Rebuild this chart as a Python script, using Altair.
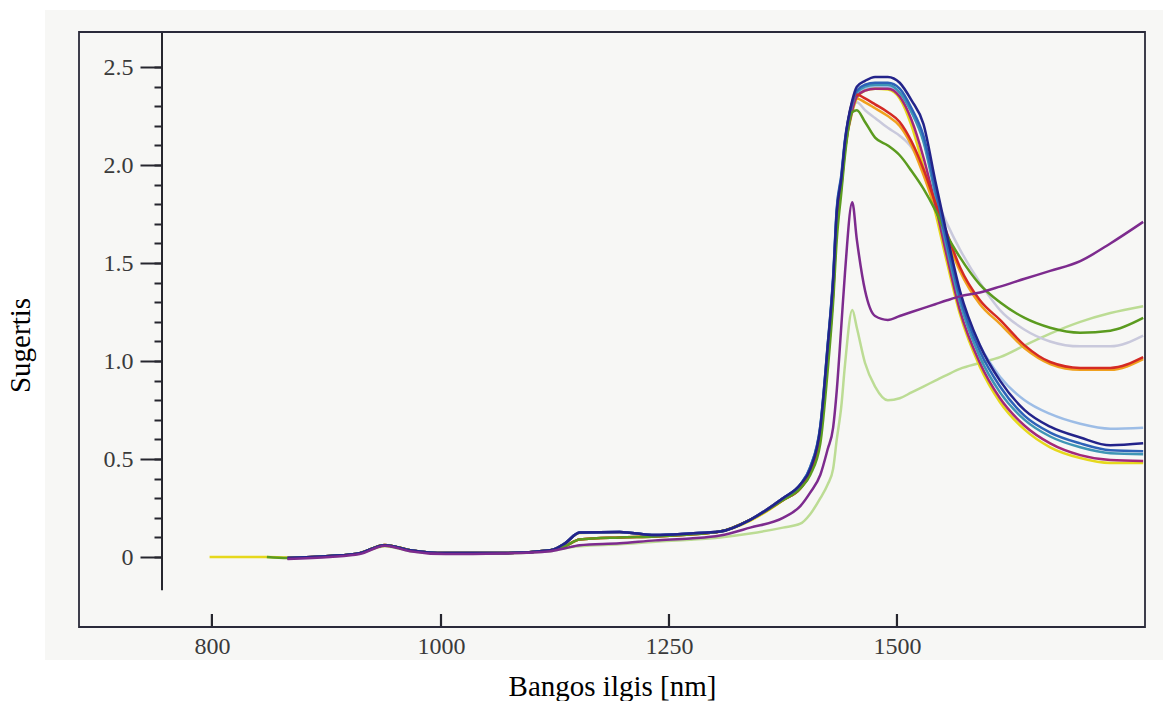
import altair as alt
import pandas as pd

# ---------------- data ----------------
# wavelength grid [nm]
WL_LOW = [798, 848, 866, 903, 929, 951, 973, 1005, 1065, 1120, 1136, 1152,
          1196, 1235, 1273, 1306, 1339, 1375]
WL_HIGH = [1394, 1405, 1416, 1424, 1430, 1434, 1439, 1443, 1451, 1456, 1465,
           1476, 1490, 1503, 1516, 1529, 1542, 1555, 1569, 1591, 1613, 1640,
           1668, 1701, 1734, 1770]

# low-wavelength part (curves overlap there, read per group)
LOW_BLUE = [None, None, -0.005, 0.005, 0.02, 0.06, 0.035, 0.02, 0.02, 0.035,
            0.07, 0.125, 0.128, 0.112, 0.12, 0.13, 0.19, 0.30]
LOW_YELLOW = [0.0, 0.0, -0.003, 0.005, 0.02, 0.058, 0.035, 0.02, 0.02, 0.035,
              0.07, 0.122, 0.126, 0.11, 0.118, 0.13, 0.185, 0.29]
LOW_MID = [None, None, -0.005, 0.005, 0.02, 0.062, 0.035, 0.02, 0.02, 0.035,
           0.055, 0.09, 0.10, 0.105, 0.115, 0.13, 0.19, 0.29]
LOW_GREEN = [None, 0.0, -0.005, 0.005, 0.02, 0.062, 0.035, 0.02, 0.02, 0.035,
             0.055, 0.09, 0.10, 0.105, 0.115, 0.13, 0.19, 0.29]
LOW_PURPLE = [None, None, -0.01, 0.0, 0.015, 0.058, 0.03, 0.015, 0.018, 0.03,
              0.045, 0.06, 0.07, 0.085, 0.095, 0.11, 0.15, 0.20]
LOW_LGREEN = [None, None, -0.005, 0.003, 0.018, 0.055, 0.03, 0.018, 0.018,
              0.03, 0.045, 0.055, 0.065, 0.078, 0.088, 0.10, 0.12, 0.15]

# water band region, per curve
NAVY = [0.37, 0.45, 0.66, 1.07, 1.41, 1.76, 1.93, 2.12, 2.33, 2.40, 2.43, 2.45,
        2.45, 2.42, 2.33, 2.21, 1.92, 1.64, 1.36, 1.08, 0.90, 0.75, 0.665, 0.61,
        0.57, 0.58]
BLUE = [0.37, 0.46, 0.67, 1.08, 1.43, 1.78, 1.95, 2.13, 2.32, 2.38, 2.41, 2.42,
        2.42, 2.39, 2.29, 2.15, 1.88, 1.60, 1.33, 1.05, 0.87, 0.72, 0.635, 0.58,
        0.545, 0.54]
SKY = [0.36, 0.45, 0.65, 1.05, 1.40, 1.74, 1.92, 2.10, 2.30, 2.36, 2.39, 2.40,
       2.40, 2.37, 2.27, 2.13, 1.87, 1.61, 1.34, 1.08, 0.92, 0.80, 0.73, 0.68,
       0.655, 0.66]
TEAL = [0.37, 0.46, 0.67, 1.08, 1.42, 1.77, 1.94, 2.12, 2.31, 2.37, 2.40, 2.41,
        2.41, 2.37, 2.27, 2.12, 1.85, 1.57, 1.30, 1.02, 0.84, 0.70, 0.615, 0.56,
        0.53, 0.525]
YELLOW = [0.36, 0.44, 0.64, 1.03, 1.38, 1.72, 1.90, 2.08, 2.27, 2.34, 2.38, 2.39,
          2.385, 2.34, 2.20, 1.99, 1.76, 1.50, 1.24, 0.97, 0.79, 0.65, 0.56,
          0.505, 0.48, 0.48]
MAGENTA = [0.36, 0.44, 0.64, 1.03, 1.38, 1.72, 1.90, 2.08, 2.28, 2.35, 2.38,
           2.39, 2.39, 2.35, 2.23, 2.04, 1.80, 1.53, 1.26, 0.99, 0.81, 0.67,
           0.58, 0.52, 0.495, 0.49]
RED = [0.35, 0.43, 0.62, 1.00, 1.35, 1.70, 1.90, 2.10, 2.32, 2.36, 2.34, 2.31,
       2.27, 2.22, 2.12, 1.98, 1.81, 1.65, 1.48, 1.31, 1.21, 1.08, 0.995, 0.965,
       0.965, 1.02]
ORANGE = [0.35, 0.43, 0.62, 1.00, 1.34, 1.69, 1.89, 2.09, 2.30, 2.34, 2.32,
          2.29, 2.25, 2.20, 2.10, 1.95, 1.78, 1.62, 1.46, 1.29, 1.19, 1.065,
          0.985, 0.955, 0.955, 1.01]
GREY = [0.35, 0.43, 0.62, 1.00, 1.34, 1.68, 1.88, 2.07, 2.28, 2.32, 2.28, 2.24,
        2.19, 2.15, 2.09, 1.98, 1.84, 1.70, 1.57, 1.40, 1.26, 1.16, 1.10, 1.075,
        1.075, 1.13]
GREEN = [0.35, 0.42, 0.58, 0.95, 1.30, 1.62, 1.86, 2.05, 2.27, 2.28, 2.22, 2.14,
         2.10, 2.05, 1.97, 1.88, 1.77, 1.64, 1.53, 1.39, 1.30, 1.22, 1.17, 1.145,
         1.155, 1.22]
PURPLE = [0.26, 0.33, 0.42, 0.55, 0.66, 0.85, 1.18, 1.45, 1.81, 1.62, 1.36,
          1.23, 1.21, 1.23, 1.25, 1.27, 1.29, 1.31, 1.33, 1.35, 1.38, 1.42, 1.46,
          1.51, 1.60, 1.71]
LGREEN = [0.17, 0.22, 0.30, 0.37, 0.45, 0.60, 0.77, 0.98, 1.26, 1.17, 0.99,
          0.87, 0.80, 0.81, 0.84, 0.87, 0.90, 0.93, 0.96, 0.99, 1.02, 1.08, 1.14,
          1.20, 1.245, 1.28]

# drawing order: name, colour, low part, high part
SERIES = [
    ("s01", "#bcdc94", LOW_LGREEN, LGREEN),
    ("s02", "#c9c9dc", LOW_MID, GREY),
    ("s03", "#9dbde6", LOW_BLUE, SKY),
    ("s04", "#e6d81c", LOW_YELLOW, YELLOW),
    ("s05", "#f0a11e", LOW_MID, ORANGE),
    ("s06", "#a3287a", LOW_BLUE, MAGENTA),
    ("s07", "#3f95b5", LOW_BLUE, TEAL),
    ("s08", "#d42a24", LOW_MID, RED),
    ("s09", "#5b9b1f", LOW_GREEN, GREEN),
    ("s10", "#2e62b8", LOW_BLUE, BLUE),
    ("s11", "#23238a", LOW_BLUE, NAVY),
    ("s12", "#7d2b8e", LOW_PURPLE, PURPLE),
]

rows = []
for order, (name, col, low, high) in enumerate(SERIES):
    for wl, v in zip(WL_LOW + WL_HIGH, low + high):
        if v is not None:
            rows.append({"series": name, "nm": wl, "a": v, "o": order})
df = pd.DataFrame(rows)

names = [s[0] for s in SERIES]
colors = [s[1] for s in SERIES]

X_TICKS = [800, 1000, 1250, 1500]
Y_MAJOR = [0, 0.5, 1, 1.5, 2, 2.5]
Y_MINOR = [i / 10 for i in range(26)]

SERIF = "Liberation Serif"
W, H = 1066, 595
INK = "#26262e"

x_scale = alt.Scale(domain=[684, 1000, 1772], range=[0, 362, W], nice=False, zero=False)
y_scale = alt.Scale(domain=[-0.357, 2.679], nice=False, zero=False)

X_AXIS = alt.Axis(values=X_TICKS, format="d", offset=-13, ticks=False,
                  domain=False, grid=False,
                  labelFont=SERIF, labelFontSize=24, labelColor="#3a3a3a",
                  labelPadding=20, zindex=2,
                  title="Bangos ilgis [nm]", titleFont=SERIF,
                  titleFontSize=29, titleFontWeight="normal", titleColor="black",
                  titleY=81, titleBaseline="alphabetic")

page = alt.Chart(pd.DataFrame({"k": [0]})).mark_rect(color="#f7f7f5").encode(
    x=alt.value(-34), x2=alt.value(W + 18), y=alt.value(-22), y2=alt.value(H + 33)
)

lines = alt.Chart(df).mark_line(strokeWidth=2.5, interpolate="monotone").encode(
    x=alt.X("nm:Q", scale=x_scale, axis=X_AXIS),
    y=alt.Y("a:Q", scale=y_scale,
            axis=alt.Axis(values=Y_MAJOR, orient="left", offset=-83,
                          tickSize=22, tickWidth=2, tickColor=INK, domain=False,
                          grid=False, zindex=2,
                          labelExpr="datum.value == 0 ? '0' : format(datum.value, '.1f')",
                          labelFont=SERIF, labelFontSize=24, labelColor="#3a3a3a",
                          labelPadding=7,
                          title="Sugertis", titleFont=SERIF, titleFontSize=29,
                          titleFontWeight="normal", titleColor="black", titleAngle=270,
                          titleX=-142, titleY=313, titleBaseline="middle",
                          titleAlign="center")),
    color=alt.Color("series:N", scale=alt.Scale(domain=names, range=colors), legend=None),
    order=alt.Order("nm:Q"),
)

# inward x tick marks at the tick values, placed through the x scale
x_ticks = alt.Chart(pd.DataFrame({"nm": X_TICKS})).mark_rule(
    strokeWidth=2.2, color=INK
).encode(
    x=alt.X("nm:Q", scale=x_scale, axis=X_AXIS),
    y=alt.value(H - 13),
    y2=alt.value(H),
)

axis_line = alt.Chart(pd.DataFrame({"lo": [-0.17], "hi": [2.68]})).mark_rule(
    strokeWidth=2, color=INK
).encode(
    x=alt.value(83),
    y=alt.Y("hi:Q", scale=y_scale,
            axis=alt.Axis(values=Y_MINOR, orient="left", offset=-83,
                          tickSize=8, tickWidth=2, tickColor=INK, domain=False,
                          grid=False, labels=False, title="", zindex=2)),
    y2="lo:Q",
)

frame = alt.Chart(pd.DataFrame({"k": [0]})).mark_rect(
    fillOpacity=0, stroke="#2a2a3a", strokeWidth=1.8
).encode(x=alt.value(0), x2=alt.value(W), y=alt.value(0), y2=alt.value(H))

chart = (
    alt.layer(page, lines, x_ticks, axis_line, frame)
    .resolve_axis(y="independent")
    .properties(width=W, height=H, autosize="none",
                padding={"left": 79, "top": 32, "right": 18, "bottom": 74},
                background="white")
    .configure_view(strokeOpacity=0)
)

chart.save("out.html", embed_options={"renderer": "svg", "actions": False})
